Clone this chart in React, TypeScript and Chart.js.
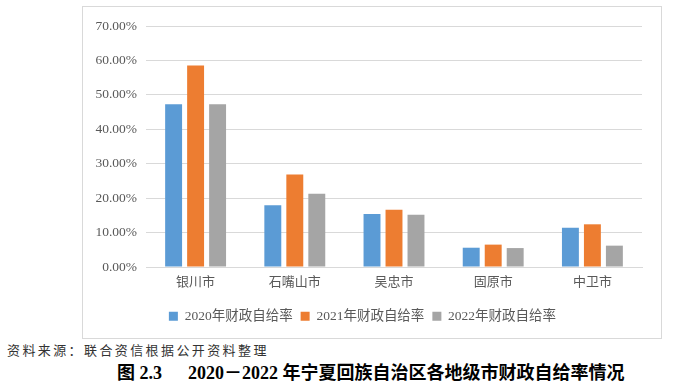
import React, { useEffect, useRef } from 'react';
import { Chart, registerables } from 'chart.js';

Chart.register(...registerables);

const categories = ['银川市', '石嘴山市', '吴忠市', '固原市', '中卫市'];
const seriesLabels = ['2020年财政自给率', '2021年财政自给率', '2022年财政自给率'];
const values2020 = [47.3, 17.9, 15.4, 5.6, 11.4];
const values2021 = [58.5, 26.9, 16.6, 6.5, 12.4];
const values2022 = [47.3, 21.3, 15.2, 5.5, 6.2];
const yMin = 0;
const yMax = 70;
const yStep = 10;
const sourceText = '资料来源：联合资信根据公开资料整理';
const figureNo = '图 2.3';
const figureTitle = '2020－2022 年宁夏回族自治区各地级市财政自给率情况';

const colors = ['#5B9BD5', '#ED7D31', '#A5A5A5'];
const FONT = '"Liberation Serif", "Times New Roman", "Noto Sans CJK SC", serif';

export default function App() {
  const ref = useRef<HTMLCanvasElement | null>(null);

  useEffect(() => {
    if (!ref.current) return;
    const chart = new Chart(ref.current, {
      type: 'bar',
      data: {
        labels: categories,
        datasets: [values2020, values2021, values2022].map((d, i) => ({
          label: seriesLabels[i],
          data: d,
          backgroundColor: colors[i],
          borderWidth: 0,
          categoryPercentage: 0.665,
          barPercentage: 0.77,
        })),
      },
      options: {
        responsive: false,
        animation: false,
        devicePixelRatio: 1,
        layout: { padding: { top: 20, right: 19, bottom: 5, left: 0 } },
        plugins: {
          tooltip: { enabled: false },
          legend: {
            position: 'bottom',
            labels: {
              boxWidth: 9,
              boxHeight: 9,
              padding: 8,
              color: '#595959',
              font: { family: FONT, size: 13.5 },
            },
          },
        },
        scales: {
          x: {
            grid: { display: false, drawTicks: false },
            border: { display: true, color: '#D9D9D9', width: 1 },
            ticks: { color: '#595959', padding: 8, font: { family: FONT, size: 13 } },
            afterFit: (axis: any) => { axis.height = 34.5; },
          },
          y: {
            min: yMin,
            max: yMax,
            grid: { color: '#D9D9D9', lineWidth: 1, drawTicks: false },
            border: { display: false },
            ticks: {
              stepSize: yStep,
              padding: 9,
              color: '#595959',
              font: { family: FONT, size: 13.5 },
              callback: (v: any) => Number(v).toFixed(2) + '%',
            },
            afterFit: (axis: any) => { axis.width = 63; },
          },
        },
      },
    });
    return () => chart.destroy();
  }, []);

  return (
    <div style={{ position: 'absolute', left: 0, top: 0, width: 700, height: 387, background: '#fff', overflow: 'hidden' }}>
      <div style={{ position: 'absolute', left: 82, top: 6, width: 580, height: 333, border: '1px solid #D9D9D9', boxSizing: 'border-box' }} />
      <canvas ref={ref} width={578} height={332} style={{ position: 'absolute', left: 83, top: 6, width: 578, height: 332 }} />
      <div style={{ position: 'absolute', left: 7, top: 344, fontFamily: FONT, fontSize: 13, lineHeight: '14px', letterSpacing: '2.4px', color: '#333', whiteSpace: 'nowrap' }}>{sourceText}</div>
      <div style={{ position: 'absolute', left: 117, top: 363, fontFamily: FONT, fontSize: 18, lineHeight: '20px', fontWeight: 'bold', color: '#000', whiteSpace: 'nowrap' }}>{figureNo}</div>
      <div style={{ position: 'absolute', left: 188, top: 363, fontFamily: FONT, fontSize: 18, lineHeight: '20px', fontWeight: 'bold', color: '#000', whiteSpace: 'nowrap' }}>{figureTitle}</div>
    </div>
  );
}
